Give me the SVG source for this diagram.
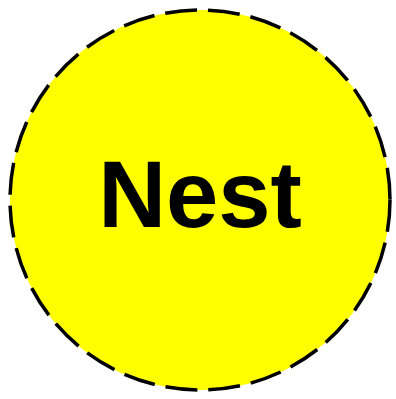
<svg xmlns="http://www.w3.org/2000/svg" width="396" height="399" viewBox="0 0 396 399">
<style>
.node{fill:#ffff00;stroke:#000;stroke-width:3.5;stroke-dasharray:32,11}
.lbl{font-family:"Liberation Sans",Arial,sans-serif;font-weight:bold;font-size:94px;fill:#000;text-anchor:middle}
</style>
<g id="connectors"></g>
<g id="nest">
<circle class="node" cx="200" cy="200" r="190"/>
<text class="lbl" x="200" y="227">Nest</text>
</g>
</svg>
